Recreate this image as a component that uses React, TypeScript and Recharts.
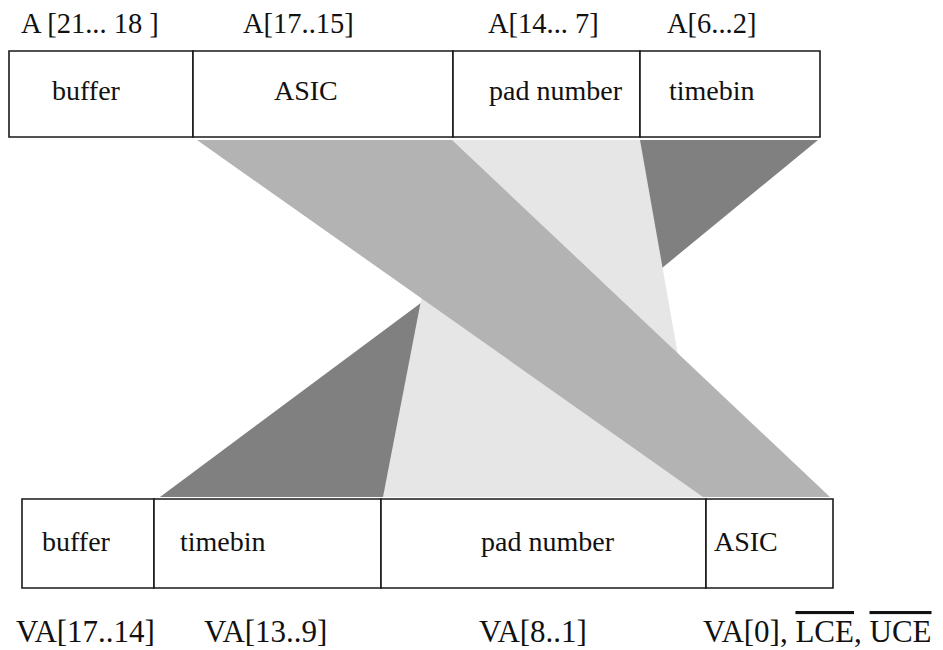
import React from "react";
import { ComposedChart, XAxis, YAxis, Area, ReferenceArea, ReferenceDot } from "recharts";

// Diagram coordinates are in a 943 x 650 data space (y grows downward)
const topEdges = [9, 193, 453, 640, 820];
const topNames = ["buffer", "ASIC", "pad number", "timebin"];
const topNameX = [52, 274, 489, 669];
const topBits = ["A [21... 18 ]", "A[17..15]", "A[14... 7]", "A[6...2]"];
const topBitX = [21, 243, 488, 667];

const bottomEdges = [22, 154, 381, 706, 833];
const bottomNames = ["buffer", "timebin", "pad number", "ASIC"];
const bottomNameX = [42, 180, 481, 714];
const bottomBits = ["VA[17..14]", "VA[13..9]", "VA[8..1]", "VA[0], "];
const bottomBitX = [16, 204, 479, 703];
const overlined = ["LCE", "UCE"];

const topBox = [51, 137];
const bottomBox = [499, 588];
const rowBaseline = { topBits: 33, topNames: 100, bottomNames: 551, bottomBits: 642 };

// bands: left/right x at the top edge and at the bottom edge
const timebinBand = [
  { y: 140, x: [640, 818] },
  { y: 497, x: [160, 383] },
];
const padBand = [
  { y: 140, x: [452, 640] },
  { y: 497, x: [383, 703] },
];
const asicBand = [
  { y: 140, x: [197, 452] },
  { y: 497, x: [703, 830] },
];

const FONT = '"Liberation Serif", "Times New Roman", serif';

const textLabel = (content: React.ReactNode, size: number) => (props: any) => {
  const vb = props.viewBox || {};
  return (
    <text x={vb.x} y={vb.y} fontFamily={FONT} fontSize={size} fill="#111">
      {content}
    </text>
  );
};

export default function App() {
  const cells = (edges: number[], box: number[], key: string) =>
    edges.slice(0, -1).map((x, i) => (
      <ReferenceArea
        key={`${key}-${i}`}
        x1={x}
        x2={edges[i + 1]}
        y1={box[0]}
        y2={box[1]}
        fill="#fff"
        fillOpacity={1}
        stroke="#1a1a1a"
        strokeWidth={1.6}
      />
    ));

  const texts = (items: React.ReactNode[], xs: number[], y: number, size: number, key: string) =>
    items.map((t, i) => (
      <ReferenceDot
        key={`${key}-${i}`}
        x={xs[i]}
        y={y}
        r={0}
        fill="none"
        stroke="none"
        label={textLabel(t, size)}
      />
    ));

  const lastBit = (
    <>
      {bottomBits[3]}
      <tspan style={{ textDecoration: "overline" }}>{overlined[0]}</tspan>
      {", "}
      <tspan style={{ textDecoration: "overline" }}>{overlined[1]}</tspan>
    </>
  );
  const bottomBitNodes: React.ReactNode[] = [...bottomBits.slice(0, 3), lastBit];

  const band = (data: any[], fill: string) => (
    <Area
      data={data}
      dataKey="x"
      type="linear"
      fill={fill}
      fillOpacity={1}
      stroke="none"
      dot={false}
      activeDot={false}
      isAnimationActive={false}
    />
  );

  return (
    <div style={{ position: "absolute", left: 0, top: 0, width: 943, height: 650, background: "#fff" }}>
      <ComposedChart
        width={943}
        height={650}
        layout="vertical"
        margin={{ top: 0, right: 0, bottom: 0, left: 0 }}
      >
        <XAxis type="number" domain={[0, 943]} allowDataOverflow hide />
        <YAxis type="number" dataKey="y" domain={[0, 650]} allowDataOverflow hide />

        {band(timebinBand, "#808080")}
        {band(padBand, "#e6e6e6")}
        {band(asicBand, "#b3b3b3")}

        {cells(topEdges, topBox, "top")}
        {cells(bottomEdges, bottomBox, "bottom")}

        {texts(topBits, topBitX, rowBaseline.topBits, 28.5, "tb")}
        {texts(topNames, topNameX, rowBaseline.topNames, 28, "tn")}
        {texts(bottomNames, bottomNameX, rowBaseline.bottomNames, 28, "bn")}
        {texts(bottomBitNodes, bottomBitX, rowBaseline.bottomBits, 31, "bb")}
      </ComposedChart>
    </div>
  );
}
